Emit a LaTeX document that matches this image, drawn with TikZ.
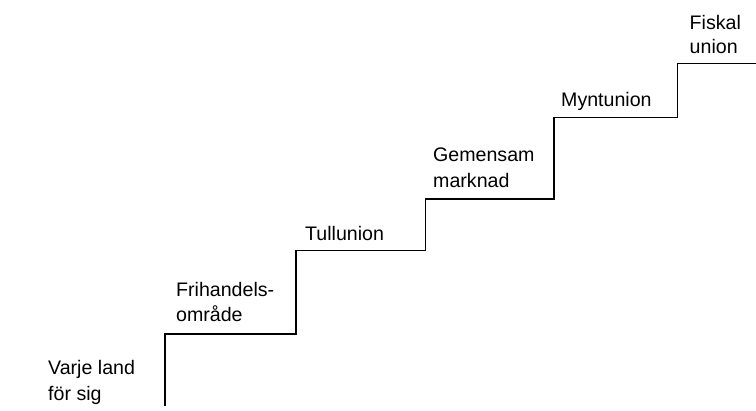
\documentclass[tikz,border=0pt]{standalone}
\usepackage{fontspec}
\setmainfont{Liberation Sans}
\begin{document}
\begin{tikzpicture}[x=1bp,y=-1bp,
  lbl/.style={anchor=base west,inner sep=0pt,font=\fontsize{19.6bp}{25bp}\selectfont},
  stair/.style={draw=black,line width=1.1bp}]
\useasboundingbox (0,0) rectangle (756,410);
\coordinate (s0) at (165,406);
\coordinate (s1) at (165,334);
\coordinate (s2) at (296,334);
\coordinate (s3) at (296,250.5);
\coordinate (s4) at (425.5,250.5);
\coordinate (s5) at (425.5,199);
\coordinate (s6) at (554,199);
\coordinate (s7) at (554,117.3);
\coordinate (s8) at (677.5,117.3);
\coordinate (s9) at (677.5,63.5);
\coordinate (s10) at (756,63.5);
\draw[stair] (s0) -- (s1) -- (s2) -- (s3) -- (s4) -- (s5) -- (s6) -- (s7) -- (s8) -- (s9) -- (s10);
\node[lbl] (t1) at (48,374.5) {\begin{tabular}[t]{@{}l@{}}Varje land\\[1bp]för sig\end{tabular}};
\node[lbl] (t2) at (176,296.7) {\begin{tabular}[t]{@{}l@{}}Frihandels-\\område\end{tabular}};
\node[lbl] (t3) at (305,240.7) {Tullunion};
\node[lbl] (t4) at (433,161.7) {\begin{tabular}[t]{@{}l@{}}Gemensam\\[0.5bp]marknad\end{tabular}};
\node[lbl] (t5) at (561,106.5) {Myntunion};
\node[lbl] (t6) at (689.5,29) {\begin{tabular}[t]{@{}l@{}}Fiskal\\[-1bp]union\end{tabular}};
\end{tikzpicture}
\end{document}
